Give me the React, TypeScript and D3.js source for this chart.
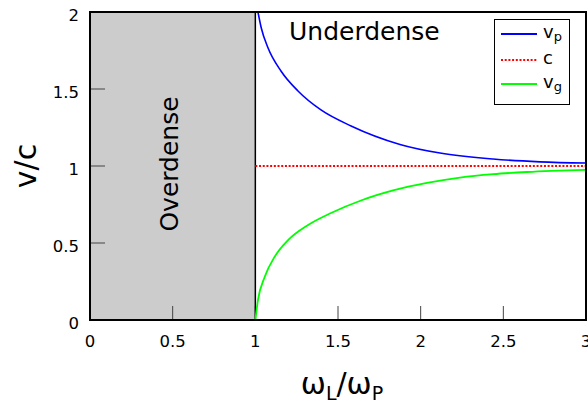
import React from "react";
import * as d3 from "d3";

const W = 588;
const H = 403;
const MARGIN = { top: 12, right: 2, bottom: 83, left: 90 };

// values
const xTicks = [0, 0.5, 1, 1.5, 2, 2.5, 3];
const yTicks = [0, 0.5, 1, 1.5, 2];
const xTickLabels = ["0", "0.5", "1", "1.5", "2", "2.5", "3"];
const yTickLabels = ["0", "0.5", "1", "1.5", "2"];

const vpX = [1.016, 1.036, 1.077, 1.155, 1.258, 1.397, 1.579, 1.875, 2.117, 2.438, 2.722, 3.0];
const vpY = [2.0, 1.896, 1.766, 1.617, 1.487, 1.364, 1.26, 1.14, 1.084, 1.045, 1.027, 1.019];

const vgX = [1.0, 1.016, 1.057, 1.117, 1.198, 1.319, 1.458, 1.639, 1.833, 2.038, 2.238, 2.438, 2.643, 3.0];
const vgY = [0, 0.13, 0.281, 0.411, 0.519, 0.617, 0.695, 0.776, 0.841, 0.89, 0.925, 0.947, 0.961, 0.975];

const cX = [1, 3];
const cY = [1, 1];

const overdense = [0, 1];

const FONT = "DejaVu Sans, sans-serif";

const App = () => {
  const boundsWidth = W - MARGIN.left - MARGIN.right;
  const boundsHeight = H - MARGIN.top - MARGIN.bottom;

  const xScale = d3.scaleLinear().domain([0, 3]).range([0, boundsWidth]);
  const yScale = d3.scaleLinear().domain([0, 2]).range([boundsHeight, 0]);

  const line = d3
    .line<[number, number]>()
    .x((d) => xScale(d[0]))
    .y((d) => yScale(d[1]))
    .curve(d3.curveMonotoneX);

  const zip = (xs: number[], ys: number[]) => xs.map((x, i) => [x, ys[i]] as [number, number]);

  const legendItems = [
    { label: "v", sub: "p", color: "#0000ff", dash: undefined },
    { label: "c", sub: "", color: "#ff0000", dash: "2 1.7" },
    { label: "v", sub: "g", color: "#00ff00", dash: undefined },
  ];
  const legendY = [34, 60, 84];

  return (
    <svg
      width={W}
      height={H}
      style={{ position: "absolute", left: 0, top: 0, background: "#fff" }}
      fontFamily={FONT}
    >
      <g transform={`translate(${MARGIN.left},${MARGIN.top})`}>
        <clipPath id="plotclip">
          <rect x={0} y={0} width={boundsWidth} height={boundsHeight} />
        </clipPath>
        {/* overdense region */}
        <rect
          x={xScale(overdense[0])}
          y={0}
          width={xScale(overdense[1]) - xScale(overdense[0])}
          height={boundsHeight}
          fill="#cccccc"
        />

        {/* ticks (inside) */}
        {xTicks.map((t) => (
          <line key={"xt" + t} x1={xScale(t)} x2={xScale(t)} y1={boundsHeight} y2={boundsHeight - 14} stroke="#444" strokeWidth={1} />
        ))}
        {yTicks.map((t) => (
          <line key={"yt" + t} x1={0} x2={15} y1={yScale(t)} y2={yScale(t)} stroke="#444" strokeWidth={1} />
        ))}

        <line
          x1={xScale(overdense[1])}
          x2={xScale(overdense[1])}
          y1={0}
          y2={boundsHeight}
          stroke="#000"
          strokeWidth={1.5}
        />

        <g clipPath="url(#plotclip)">
          <path d={line(zip(cX, cY)) || ""} fill="none" stroke="#ff0000" strokeWidth={2} strokeDasharray="2 1.7" />
          <path d={line(zip(vpX, vpY)) || ""} fill="none" stroke="#0000ff" strokeWidth={1.6} />
          <path d={line(zip(vgX, vgY)) || ""} fill="none" stroke="#00ff00" strokeWidth={1.8} />
        </g>

        <rect x={0} y={0} width={boundsWidth} height={boundsHeight} fill="none" stroke="#000" strokeWidth={2} />

        {/* tick labels */}
        {xTicks.map((t, i) => (
          <text key={"xl" + t} x={xScale(t)} y={boundsHeight + 27} textAnchor="middle" fontSize={16.5} fill="#000">
            {xTickLabels[i]}
          </text>
        ))}
        {yTicks.map((t, i) => (
          <text key={"yl" + t} x={-11} y={yScale(t) + 9} textAnchor="end" fontSize={16.5} fill="#000">
            {yTickLabels[i]}
          </text>
        ))}

        {/* region labels */}
        <text x={199} y={28} fontSize={25} fill="#000">
          Underdense
        </text>
        <text
          transform={`translate(${xScale(0.5) + 5},${yScale(1) - 2}) rotate(-90)`}
          textAnchor="middle"
          fontSize={25}
          fill="#000"
        >
          Overdense
        </text>
      </g>

      {/* legend */}
      <rect x={494.5} y={19.5} width={75} height={85} fill="#fff" stroke="#000" strokeWidth={1} />
      {legendItems.map((d, i) => (
        <g key={"lg" + i}>
          <line x1={501} x2={537} y1={legendY[i]} y2={legendY[i]} stroke={d.color} strokeWidth={2} strokeDasharray={d.dash} />
          <text x={543} y={legendY[i] + 4} fontSize={18} fill="#000">
            {d.label}
            {d.sub && (
              <tspan fontSize={13} dy={3}>
                {d.sub}
              </tspan>
            )}
          </text>
        </g>
      ))}

      {/* axis titles */}
      <text transform="translate(36,166) rotate(-90)" textAnchor="middle" fontSize={30} fill="#000">
        v/c
      </text>
      <text x={342} y={394} textAnchor="middle" fontSize={30} fill="#000">
        ω<tspan fontSize={19} dy={6}>L</tspan>
        <tspan dy={-6}>/ω</tspan>
        <tspan fontSize={19} dy={6}>P</tspan>
      </text>
    </svg>
  );
};

export default App;
